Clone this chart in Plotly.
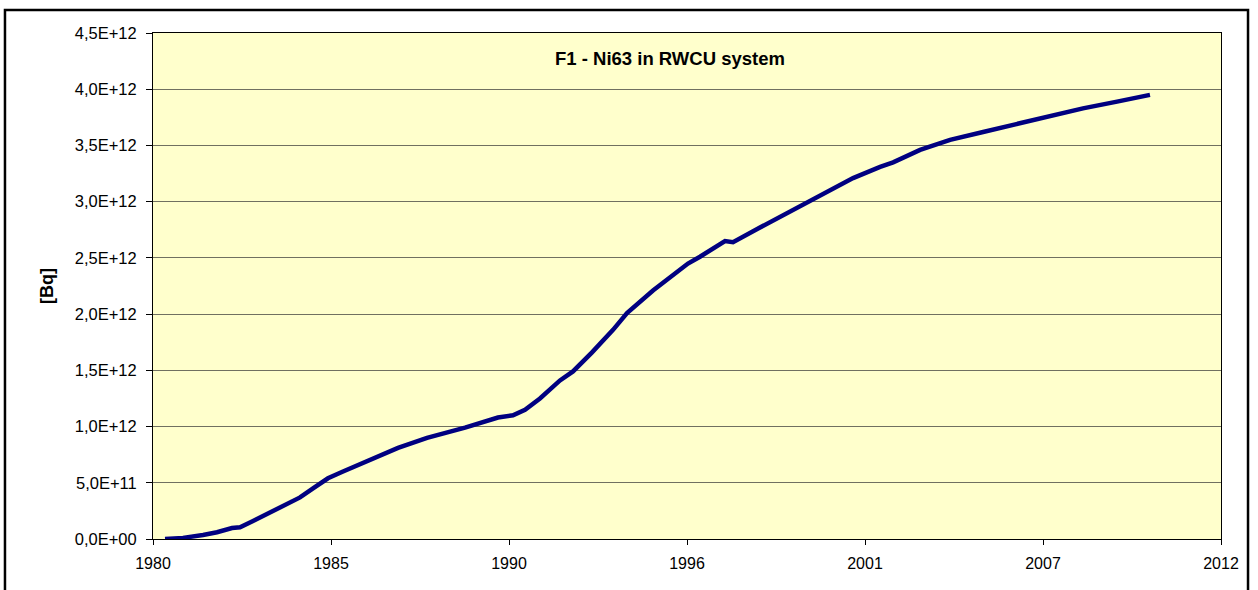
import datetime as dt
import plotly.graph_objects as go

# ---- data ----
dates = [
    "1980-05-15", "1980-12-03", "1981-07-16", "1981-12-20", "1982-06-07", "1982-09-05",
    "1983-01-29", "1983-07-05", "1984-01-01", "1984-07-10", "1984-12-03", "1985-05-20",
    "1985-11-05", "1986-06-18", "1987-01-28", "1987-07-16", "1988-06-06", "1989-08-07",
    "1990-08-12", "1991-01-28", "1991-06-12", "1991-11-27", "1992-07-09", "1992-12-02",
    "1993-07-04", "1994-02-25", "1994-08-01", "1995-05-20", "1996-06-16", "1996-10-29",
    "1997-08-06", "1997-11-04", "1998-09-03", "1999-08-07", "2000-02-14", "2000-08-01",
    "2001-07-15", "2002-05-15", "2002-10-08", "2003-08-07", "2004-07-09", "2005-07-15",
    "2006-09-02", "2007-08-05", "2008-08-10", "2009-08-28", "2010-09-02",
]
activity_bq = [
    0.0e12, 0.01e12, 0.036e12, 0.06e12, 0.098e12, 0.105e12,
    0.16e12, 0.22e12, 0.29e12, 0.37e12, 0.45e12, 0.54e12,
    0.60e12, 0.68e12, 0.76e12, 0.81e12, 0.90e12, 0.99e12,
    1.08e12, 1.10e12, 1.15e12, 1.25e12, 1.41e12, 1.49e12,
    1.66e12, 1.86e12, 2.01e12, 2.21e12, 2.45e12, 2.51e12,
    2.65e12, 2.64e12, 2.77e12, 2.91e12, 2.99e12, 3.07e12,
    3.21e12, 3.31e12, 3.35e12, 3.46e12, 3.55e12, 3.62e12,
    3.70e12, 3.76e12, 3.83e12, 3.89e12, 3.95e12,
]
x_tick_labels = ["1980", "1985", "1990", "1996", "2001", "2007", "2012"]
y_tick_values = [0, 0.5e12, 1.0e12, 1.5e12, 2.0e12, 2.5e12, 3.0e12, 3.5e12, 4.0e12, 4.5e12]
y_tick_labels = ["0,0E+00", "5,0E+11", "1,0E+12", "1,5E+12", "2,0E+12",
                 "2,5E+12", "3,0E+12", "3,5E+12", "4,0E+12", "4,5E+12"]
title_text = "F1 - Ni63 in RWCU system"
y_title = "[Bq]"

# ---- axis layout (Excel date axis: major unit 2000 days) ----
start = dt.date(1980, 1, 1)
x_tick_pos = [(start + dt.timedelta(days=2000 * i)).isoformat() for i in range(len(x_tick_labels))]
x_range = [x_tick_pos[0], x_tick_pos[-1]]

FONT = "Liberation Sans, Arial, sans-serif"

fig = go.Figure()
fig.add_trace(go.Scatter(
    x=dates, y=activity_bq, mode="lines",
    line=dict(color="#000080", width=4.5),
    showlegend=False, hoverinfo="x+y",
))

fig.update_layout(
    width=1258, height=590,
    margin=dict(l=153, r=37, t=33, b=51),
    paper_bgcolor="white",
    plot_bgcolor="#FFFFCC",
    font=dict(family=FONT, size=16, color="black"),
    xaxis=dict(
        type="date", range=x_range,
        tickmode="array", tickvals=x_tick_pos, ticktext=x_tick_labels,
        showgrid=False, zeroline=False,
        showline=True, linecolor="black", linewidth=1, mirror=True,
        ticks="outside", ticklen=5, tickcolor="black", tickwidth=1,
        ticklabelstandoff=5,
        tickfont=dict(family=FONT, size=16),
    ),
    yaxis=dict(
        range=[0, 4.5e12],
        tickmode="array", tickvals=y_tick_values, ticktext=y_tick_labels,
        showgrid=True, gridcolor="#707060", gridwidth=1,
        zeroline=False,
        showline=True, linecolor="black", linewidth=1, mirror=True,
        ticks="outside", ticklen=6, tickcolor="black", tickwidth=1,
        ticklabelstandoff=6,
        tickfont=dict(family=FONT, size=16.5),
    ),
    annotations=[
        dict(
            text="<b>" + title_text + "</b>",
            xref="paper", yref="paper", x=0.484, y=0.949,
            xanchor="center", yanchor="middle", showarrow=False,
            font=dict(family=FONT, size=18.5, color="black"),
        ),
        dict(
            text="<b>" + y_title + "</b>",
            xref="paper", yref="paper", x=-0.0993, y=0.5,
            xanchor="center", yanchor="middle", showarrow=False, textangle=-90,
            font=dict(family=FONT, size=18, color="black"),
        ),
    ],
    shapes=[dict(
        type="rect", xref="paper", yref="paper",
        x0=-0.1386, x1=1.0253, y0=-0.2, y1=1.0455,
        line=dict(color="black", width=2.5), fillcolor="rgba(0,0,0,0)", layer="above",
    )],
)

fig.write_html(
    "out.html",
    config={"displayModeBar": False},
    post_script="document.body.style.margin='0';document.body.style.overflow='hidden';",
)
